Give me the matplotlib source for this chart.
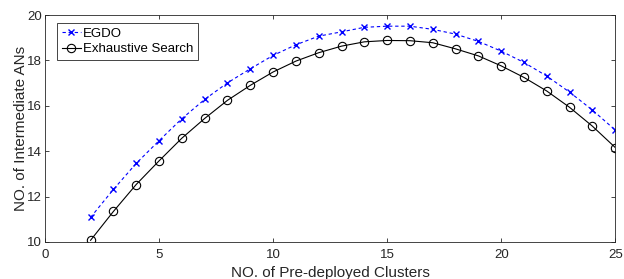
import matplotlib
matplotlib.use('Agg')
import matplotlib.pyplot as plt

plt.rcParams['font.family'] = ['Liberation Sans', 'DejaVu Sans']

# 데이터
clusters = list(range(2, 26))
egdo = [11.08, 12.31, 13.46, 14.46, 15.43, 16.28, 17.01, 17.63, 18.22, 18.69, 19.07,
        19.26, 19.46, 19.51, 19.51, 19.37, 19.16, 18.84, 18.41, 17.91, 17.31, 16.60,
        15.81, 14.93]
exhaustive = [10.07, 11.34, 12.53, 13.57, 14.57, 15.44, 16.24, 16.90, 17.49, 17.97, 18.34,
              18.63, 18.82, 18.88, 18.87, 18.78, 18.51, 18.20, 17.76, 17.25, 16.65, 15.93,
              15.10, 14.16]

fig = plt.figure(figsize=(6.24, 2.79), dpi=100)
ax = fig.add_axes([0.072, 0.133, 0.914, 0.813])

ax.plot(clusters, egdo, color='blue', linestyle=(0, (3, 2.5)), marker='x', markersize=5,
        linewidth=0.8, markeredgewidth=1.0, label='EGDO')
ax.plot(clusters, exhaustive, 'k-', marker='o', markersize=6, linewidth=0.8,
        markerfacecolor='none', markeredgewidth=0.8, label='Exhaustive Search')

ax.set_xlim(0, 25)
ax.set_ylim(10, 20)
ax.set_xticks([0, 5, 10, 15, 20, 25])
ax.set_yticks([10, 12, 14, 16, 18, 20])
ax.tick_params(direction='in', top=True, right=True, length=3, labelsize=9.5,
               colors='#262626', width=0.6)
ax.tick_params(axis='x', pad=5)
ax.tick_params(axis='y', pad=2)
for s in ax.spines.values():
    s.set_color('#262626')
    s.set_linewidth(0.6)

ax.set_xlabel('NO. of Pre-deployed Clusters', fontsize=11, color='#262626')
ax.set_ylabel('NO. of Intermediate ANs', fontsize=11, color='#262626')
ax.xaxis.set_label_coords(0.5, -0.105, transform=ax.transAxes)
ax.xaxis.label.set_va('top')
ax.yaxis.set_label_coords(-0.029, 0.5, transform=ax.transAxes)

leg = ax.legend(loc='upper left', bbox_to_anchor=(0.022, 0.966), fontsize=9.5,
                handlelength=1.4, handletextpad=0.2, borderpad=0.35, labelspacing=0.25,
                fancybox=False, framealpha=1, edgecolor='#262626', borderaxespad=0)
leg.get_frame().set_linewidth(0.6)

fig.savefig('out.png', dpi=100)
